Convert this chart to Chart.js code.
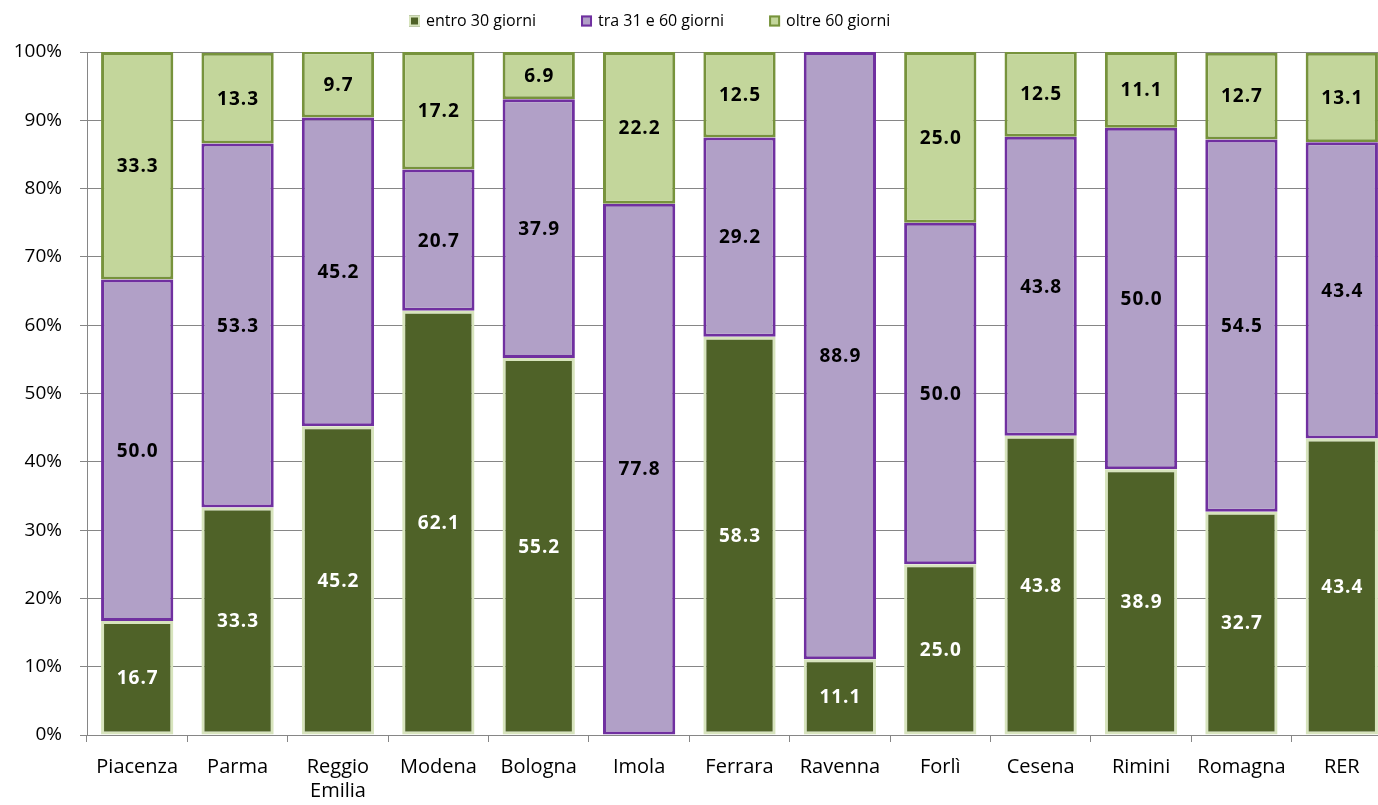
<!DOCTYPE html>
<html>
<head>
<meta charset="utf-8">
<script src="https://cdn.jsdelivr.net/npm/chart.js@4/dist/chart.umd.min.js"></script>
<style>
  html, body { margin: 0; padding: 0; background: #fff; overflow: hidden; }
  #wrap { width: 1395px; height: 805px; }
</style>
</head>
<body>
<div id="wrap"><canvas id="tempiChart"></canvas></div>
<script>
// categorie e percentuali per fascia di attesa
const aree = ['Piacenza', 'Parma', ['Reggio', 'Emilia'], 'Modena', 'Bologna', 'Imola', 'Ferrara', 'Ravenna', 'Forlì', 'Cesena', 'Rimini', 'Romagna', 'RER'];
const entro30 = [16.7, 33.3, 45.2, 62.1, 55.2, 0, 58.3, 11.1, 25.0, 43.8, 38.9, 32.7, 43.4];
const tra31e60 = [50.0, 53.3, 45.2, 20.7, 37.9, 77.8, 29.2, 88.9, 50.0, 43.8, 50.0, 54.5, 43.4];
const oltre60 = [33.3, 13.3, 9.7, 17.2, 6.9, 22.2, 12.5, 0, 25.0, 12.5, 11.1, 12.7, 13.1];

const FONT = '"Open Sans", Lato, sans-serif';

// etichette dei valori al centro di ogni segmento
const valueLabels = {
    id: 'valueLabels',
    afterDatasetsDraw(chart) {
        const ctx = chart.ctx;
        ctx.save();
        ctx.font = 'bold 19px ' + FONT;
        ctx.letterSpacing = '1px';
        ctx.textAlign = 'center';
        ctx.textBaseline = 'middle';
        chart.data.datasets.forEach((ds, i) => {
            const meta = chart.getDatasetMeta(i);
            meta.data.forEach((bar, j) => {
                const v = ds.data[j];
                if (!v) return;
                const p = bar.getProps(['x', 'y', 'base'], true);
                ctx.fillStyle = ds.labelColor;
                ctx.fillText(v.toFixed(1), p.x + 0.5, (p.y + p.base) / 2 + 1);
            });
        });
        ctx.restore();
    }
};

// legenda in alto, su una riga, con spaziatura larga tra le voci
const topLegend = {
    id: 'topLegend',
    afterDraw(chart) {
        const ctx = chart.ctx;
        const box = 11, gapText = 6, gapItem = 45, y = 21;
        ctx.save();
        ctx.font = '16px ' + FONT;
        ctx.textBaseline = 'middle';
        const sets = chart.data.datasets;
        const widths = sets.map(ds => box + gapText + ctx.measureText(ds.label).width);
        let x = 409;
        sets.forEach((ds, i) => {
            ctx.fillStyle = ds.backgroundColor;
            ctx.fillRect(x, y - box / 2, box, box);
            ctx.strokeStyle = ds.borderColor;
            ctx.lineWidth = 2;
            ctx.strokeRect(x + 1, y - box / 2 + 1, box - 2, box - 2);
            ctx.fillStyle = '#000';
            ctx.fillText(ds.label, x + box + gapText, y);
            x += widths[i] + gapItem;
        });
        ctx.restore();
    }
};

function renderChart() {
    const ctx = document.getElementById('tempiChart').getContext('2d');
    new Chart(ctx, {
        type: 'bar',
        data: {
            labels: aree,
            datasets: [{
                label: 'entro 30 giorni',
                data: entro30,
                backgroundColor: '#4F6228',
                borderColor: '#D7E4BD',
                borderWidth: 3,
                borderSkipped: false,
                labelColor: '#ffffff'
            }, {
                label: 'tra 31 e 60 giorni',
                data: tra31e60,
                backgroundColor: '#B1A0C7',
                borderColor: '#7030A0',
                borderWidth: 3,
                borderSkipped: false,
                labelColor: '#000000'
            }, {
                label: 'oltre 60 giorni',
                data: oltre60,
                backgroundColor: '#C3D69B',
                borderColor: '#77933C',
                borderWidth: 3,
                borderSkipped: false,
                labelColor: '#000000'
            }]
        },
        options: {
            responsive: true,
            maintainAspectRatio: false,
            animation: false,
            layout: { padding: { left: 0, right: 3, top: 52, bottom: 0 } },
            datasets: {
                bar: { categoryPercentage: 1.0, barPercentage: 0.72 }
            },
            plugins: {
                tooltip: { enabled: false },
                legend: { display: false }
            },
            scales: {
                x: {
                    stacked: true,
                    offset: true,
                    border: { color: '#868686', width: 1 },
                    grid: { drawOnChartArea: false, drawTicks: true, tickLength: 7, color: '#868686', offset: true },
                    ticks: { color: '#000', font: { family: FONT, size: 20, lineHeight: 1.2 }, maxRotation: 0, autoSkip: false, padding: 13 },
                    afterFit: scale => { scale.height = 70; }
                },
                y: {
                    stacked: true,
                    min: 0,
                    max: 100,
                    border: { color: '#868686', width: 1 },
                    grid: { color: '#868686', tickLength: 7 },
                    ticks: {
                        stepSize: 10,
                        color: '#000',
                        padding: 18,
                        font: { family: FONT, size: 19 },
                        callback: v => v + '%'
                    },
                    afterFit: scale => { scale.width = 87; }
                }
            }
        },
        plugins: [valueLabels, topLegend]
    });
}

renderChart();
</script>
</body>
</html>
